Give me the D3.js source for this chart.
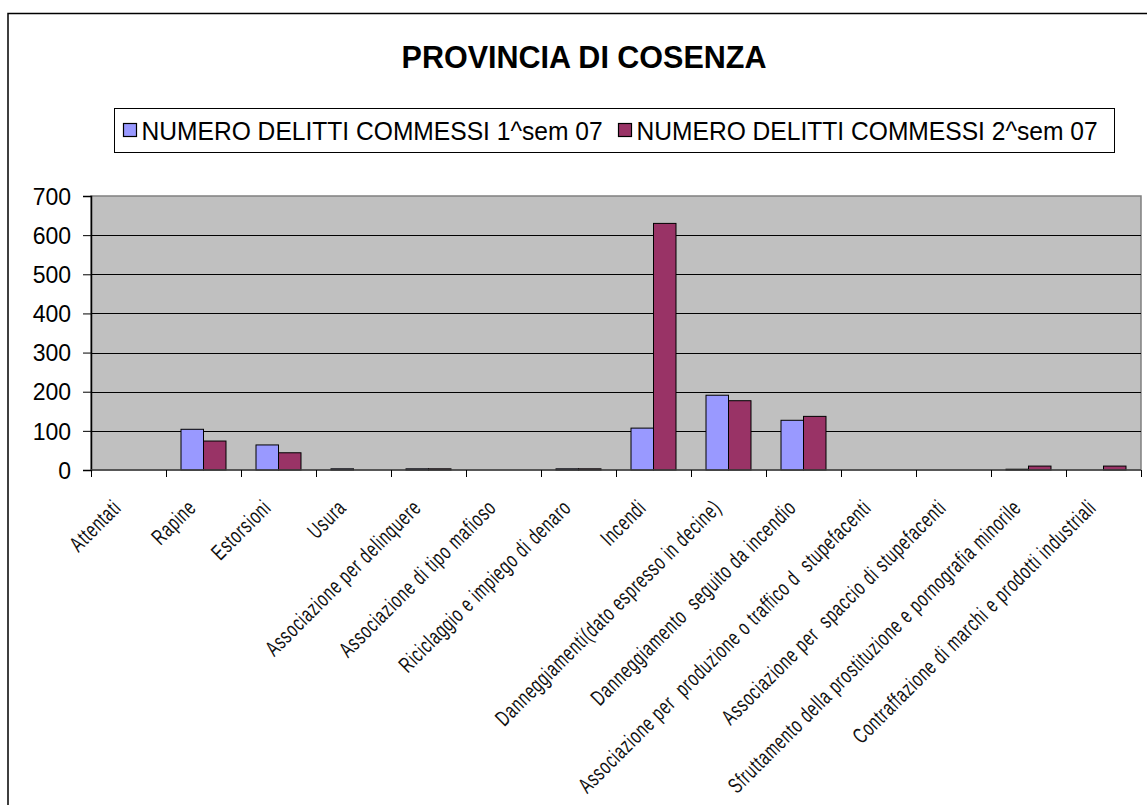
<!DOCTYPE html>
<meta charset="utf-8">
<head>
<style>
body { margin: 0; background: #fff; }
svg { display: block; font-family: "Liberation Sans", Arial, sans-serif; }
.grid line { stroke: #000; stroke-width: 1px; }
.bars rect { stroke: #000; stroke-width: 1px; }
</style>
</head>
<body>
<svg></svg>
<script src="https://d3js.org/d3.v7.min.js"></script>
<script>
// categories (x axis)
var categories = [
  "Attentati",
  "Rapine",
  "Estorsioni",
  "Usura",
  "Associazione per delinquere",
  "Associazione di tipo mafioso",
  "Riciclaggio e impiego di denaro",
  "Incendi",
  "Danneggiamenti(dato espresso in decine)",
  "Danneggiamento  seguito da incendio",
  "Associazione per  produzione o traffico d  stupefacenti",
  "Associazione per  spaccio di stupefacenti",
  "Sfruttamento della prostituzione e pornografia minorile",
  "Contraffazione di marchi e prodotti industriali"
];

var seriesNames = ["NUMERO DELITTI COMMESSI 1^sem 07", "NUMERO DELITTI COMMESSI 2^sem 07"];
var seriesColors = ["#9999ff", "#993366"];

// values
var sem1 = [0, 104, 64, 3, 3, 0, 3, 107, 191, 127, 0, 0, 2, 0];
var sem2 = [0, 74, 44, 0, 3, 0, 3, 630, 177, 137, 0, 0, 10, 10];

var yTicks = [0, 100, 200, 300, 400, 500, 600, 700];
var title = "PROVINCIA DI COSENZA";

var W = 1147, H = 805;
var plot = { left: 91, right: 1141, top: 196, bottom: 470 };

var svg = d3.select('svg').attr('width', W).attr('height', H);

// outer frame (cropped at right and bottom)
svg.append('rect')
  .attr('x', 8).attr('y', 13.5)
  .attr('width', W).attr('height', H)
  .attr('fill', '#fff').attr('stroke', '#000').attr('stroke-width', 1.5);

// title
svg.append('text')
  .attr('x', 584).attr('y', 68)
  .attr('text-anchor', 'middle')
  .attr('font-size', 30.5).attr('font-weight', 'bold')
  .text(title);

// legend
var legend = svg.append('g');
legend.append('rect')
  .attr('x', 114.5).attr('y', 108.5).attr('width', 1000).attr('height', 44)
  .attr('fill', '#fff').attr('stroke', '#000').attr('stroke-width', 1);
var legX = [123.5, 618.5];
seriesNames.forEach(function (name, i) {
  var tx = legX[i] + 18;
  legend.append('rect')
    .attr('x', legX[i]).attr('y', 123.5).attr('width', 13).attr('height', 13)
    .attr('fill', seriesColors[i]).attr('stroke', '#000').attr('stroke-width', 1.2);
  legend.append('text')
    .attr('x', tx).attr('y', 140)
    .attr('font-size', 24.6)
    .attr('transform', 'translate(' + tx + ',140) scale(1,1.08) translate(' + (-tx) + ',-140)')
    .text(name);
});

// scales
var x0 = d3.scaleBand().domain(categories).range([plot.left, plot.right]);
var x1 = d3.scaleBand().domain([0, 1]).range([0, x0.bandwidth()]).paddingInner(0).paddingOuter(0.667);
var y = d3.scaleLinear().domain([0, 700]).range([plot.bottom, plot.top]);

// plot background
svg.append('rect')
  .attr('x', plot.left).attr('y', plot.top)
  .attr('width', plot.right - plot.left).attr('height', plot.bottom - plot.top)
  .attr('fill', '#c0c0c0').attr('stroke', '#808080').attr('stroke-width', 1.5);

// gridlines
svg.append('g').attr('class', 'grid')
  .selectAll('line')
  .data(yTicks.slice(1, -1))
  .enter().append('line')
  .attr('x1', plot.left).attr('x2', plot.right)
  .attr('y1', function (d) { return Math.round(y(d)) + 0.5; })
  .attr('y2', function (d) { return Math.round(y(d)) + 0.5; });

// bars
var rows = categories.map(function (c, i) { return { cat: c, vals: [sem1[i], sem2[i]] }; });
var groups = svg.append('g').attr('class', 'bars')
  .selectAll('g')
  .data(rows)
  .enter().append('g')
  .attr('transform', function (d) { return 'translate(' + x0(d.cat) + ',0)'; });

groups.selectAll('rect')
  .data(function (d) { return d.vals.map(function (v, k) { return { k: k, v: v }; }); })
  .enter().filter(function (d) { return d.v > 0; })
  .append('rect')
  .attr('x', function (d) { return x1(d.k); })
  .attr('width', x1.bandwidth())
  .attr('y', function (d) { return y(d.v); })
  .attr('height', function (d) { return y(0) - y(d.v); })
  .attr('fill', function (d) { return seriesColors[d.k]; });

// y axis
var yAxis = d3.axisLeft(y).tickValues(yTicks).tickSize(8).tickPadding(12);
var gy = svg.append('g')
  .attr('transform', 'translate(' + plot.left + ',0)')
  .call(yAxis);
gy.select('.domain').attr('stroke', '#000').attr('stroke-width', 1.5);
gy.selectAll('.tick line').attr('stroke', '#000');
gy.selectAll('.tick text').attr('font-size', 23).attr('font-family', '"Liberation Sans", Arial, sans-serif').attr('fill', '#000').attr('dy', '0.36em');

// x axis line and ticks at category boundaries
var bounds = categories.map(function (c) { return x0(c); }).concat([plot.right]);
svg.append('line')
  .attr('x1', plot.left).attr('x2', plot.right)
  .attr('y1', plot.bottom).attr('y2', plot.bottom)
  .attr('stroke', '#404040').attr('stroke-width', 1.5);
svg.append('g').selectAll('line')
  .data(bounds)
  .enter().append('line')
  .attr('x1', function (d) { return Math.round(d) + 0.5; })
  .attr('x2', function (d) { return Math.round(d) + 0.5; })
  .attr('y1', plot.bottom).attr('y2', plot.bottom + 7)
  .attr('stroke', '#000').attr('stroke-width', 1);

// x labels, rotated, condensed
svg.append('g').selectAll('text')
  .data(categories)
  .enter().append('text')
  .attr('transform', function (d) {
    var cx = x0(d) + x0.bandwidth() / 2 - 6;
    return 'translate(' + cx + ',509) rotate(-45) scale(0.68,1)';
  })
  .attr('text-anchor', 'end')
  .attr('font-size', 22)
  .attr('letter-spacing', 1.2)
  .attr('fill', '#111')
  .style('white-space', 'pre')
  .text(function (d) { return d; });
</script>
</body>
</html>
